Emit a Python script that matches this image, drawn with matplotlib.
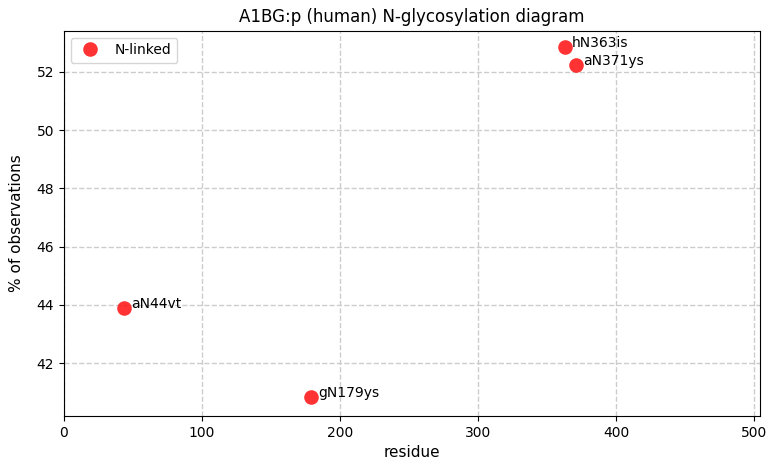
import matplotlib
matplotlib.use("Agg")
import matplotlib.pyplot as plt

residues = [44, 179, 363, 371]
percents = [43.89, 40.83, 52.84, 52.22]
labels = ["aN44vt", "gN179ys", "hN363is", "aN371ys"]

fig = plt.figure(figsize=(7.77, 4.74), dpi=100)
ax = fig.add_axes([0.082, 0.122, 0.896, 0.813])
ax.plot(residues, percents, linestyle="none", marker="o", markersize=10.5,
        markeredgewidth=0, color="red", alpha=0.8, label="N-linked", zorder=3)
for x, y, t in zip(residues, percents, labels):
    ax.annotate(t, (x, y), xytext=(5, 3), textcoords="offset points",
                va="center", ha="left", fontsize=10)
ax.set_xlim(0, 504)
ax.set_ylim(40.18, 53.41)
ax.set_xticks([0, 100, 200, 300, 400, 500])
ax.set_yticks([42, 44, 46, 48, 50, 52])
ax.grid(True, linestyle="--", color="#cccccc", linewidth=1)
ax.set_axisbelow(True)
ax.set_xlabel("residue", fontsize=11)
ax.set_ylabel("% of observations", fontsize=11, labelpad=9)
ax.set_title("A1BG:p (human) N-glycosylation diagram", fontsize=12)
ax.legend(loc="upper left")
fig.savefig("out.png", dpi=100)
